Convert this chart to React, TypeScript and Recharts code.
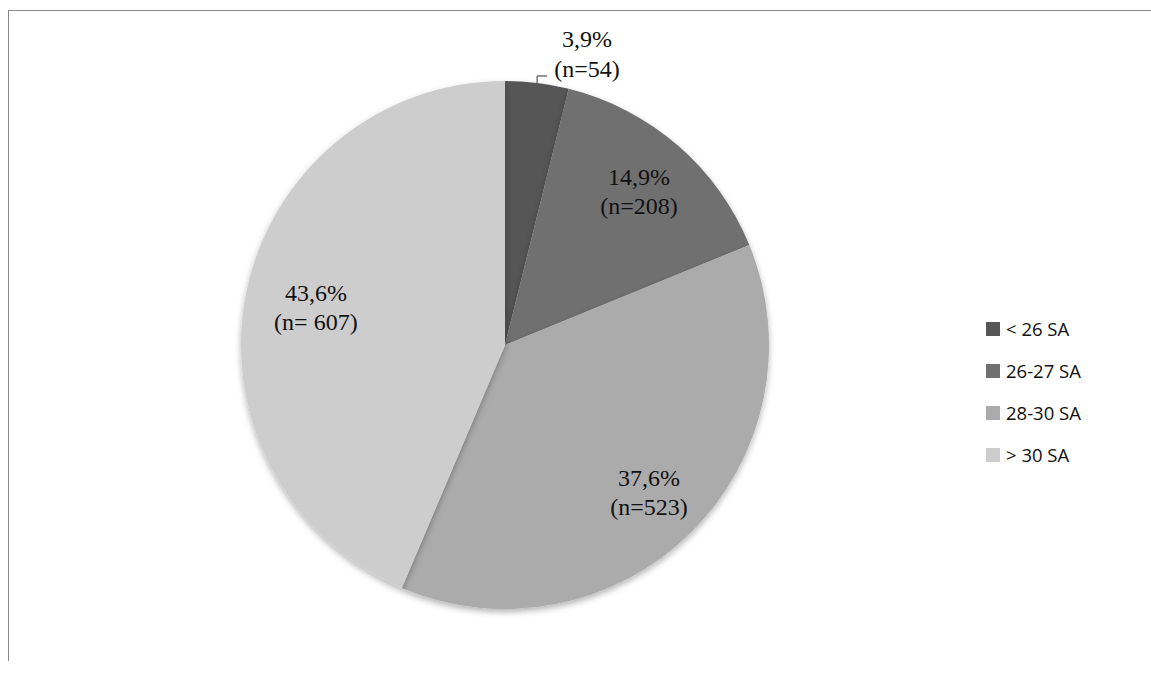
import React from "react";
import { PieChart, Pie, Cell } from "recharts";

const categories = ["< 26 SA", "26-27 SA", "28-30 SA", "> 30 SA"];
const counts = [54, 208, 523, 607];
const percents = ["3,9%", "14,9%", "37,6%", "43,6%"];
const countLabels = ["(n=54)", "(n=208)", "(n=523)", "(n= 607)"];
const colors = ["#565656", "#707070", "#ababab", "#cdcdcd"];

const data = categories.map((name, i) => ({ name, value: counts[i] }));
const RAD = Math.PI / 180;

const renderLabel = (p: any) => {
  const { cx, cy, midAngle, outerRadius, index } = p;
  const font = { fontFamily: "'Liberation Serif', 'DejaVu Serif', serif", fontSize: 24, fill: "#111" };
  if (index === 0) {
    const ex = cx + outerRadius * Math.cos(-midAngle * RAD);
    const ey = cy + outerRadius * Math.sin(-midAngle * RAD);
    const tx = ex + 50;
    return (
      <g>
        <path d={`M${ex},${ey} L${ex},${ey - 7} L${ex + 10},${ey - 7}`} stroke="#333" fill="none" strokeWidth={1} />
        <text x={tx} y={ey - 36} textAnchor="middle" {...font}>{percents[index]}</text>
        <text x={tx} y={ey - 6} textAnchor="middle" {...font}>{countLabels[index]}</text>
      </g>
    );
  }
  const rr = [0, 205, 205, 193][index];
  const x = cx + rr * Math.cos(-midAngle * RAD);
  const y = cy + rr * Math.sin(-midAngle * RAD);
  return (
    <g>
      <text x={x} y={y - 5} textAnchor="middle" {...font}>{percents[index]}</text>
      <text x={x} y={y + 24} textAnchor="middle" {...font}>{countLabels[index]}</text>
    </g>
  );
};

export default function App() {
  return (
    <div style={{ position: "absolute", left: 0, top: 0, width: 1151, height: 675, background: "#fff" }}>
      <div style={{ position: "absolute", left: 8, top: 10, width: 1143, height: 650, borderTop: "1px solid #888", borderLeft: "1px solid #888" }} />
      <PieChart width={1151} height={675} margin={{ top: 0, right: 0, bottom: 0, left: 0 }} style={{ position: "absolute", left: 0, top: 0 }}>
        <defs>
          <filter id="sh" x="-10%" y="-10%" width="120%" height="120%">
            <feDropShadow dx="0" dy="3" stdDeviation="3" floodColor="#000" floodOpacity="0.3" />
          </filter>
        </defs>
        <Pie
          data={data}
          dataKey="value"
          cx={505}
          cy={345}
          outerRadius={264}
          startAngle={90}
          endAngle={-270}
          stroke="none"
          isAnimationActive={false}
          label={renderLabel}
          labelLine={false}
          style={{ filter: "url(#sh)" }}
        >
          {data.map((d, i) => (
            <Cell key={d.name} fill={colors[i]} />
          ))}
        </Pie>
      </PieChart>
      {categories.map((c, i) => (
        <div key={c} style={{ position: "absolute", left: 986, top: 316 + i * 42, display: "flex", alignItems: "center", fontFamily: "'Open Sans', sans-serif", fontSize: 18.5, color: "#111" }}>
          <span style={{ display: "inline-block", width: 14, height: 14, background: colors[i], marginRight: 6 }} />
          {c}
        </div>
      ))}
    </div>
  );
}
